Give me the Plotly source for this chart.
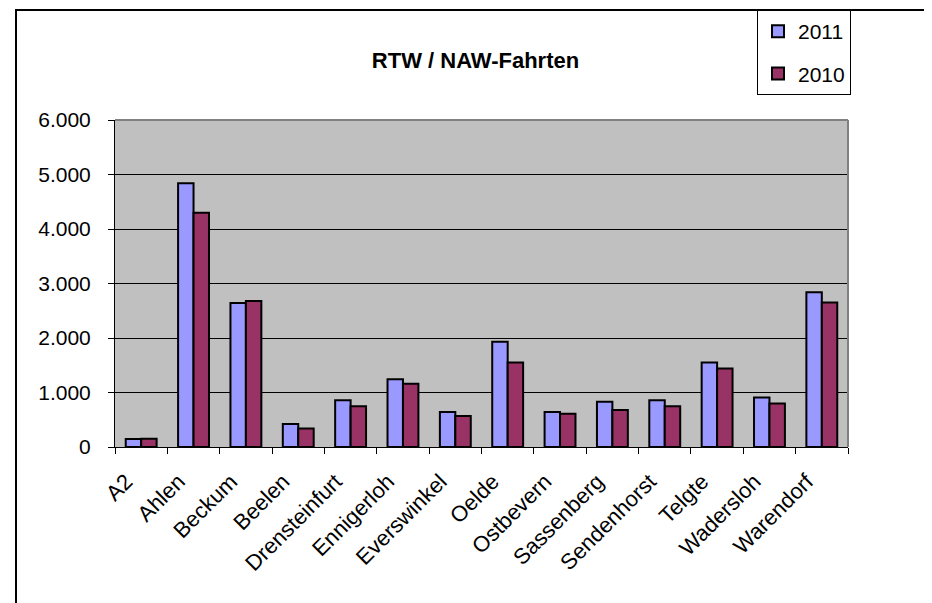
import plotly.graph_objects as go

categories = ["A2", "Ahlen", "Beckum", "Beelen", "Drensteinfurt", "Ennigerloh",
              "Everswinkel", "Oelde", "Ostbevern", "Sassenberg", "Sendenhorst",
              "Telgte", "Wadersloh", "Warendorf"]
values_2011 = [145, 4840, 2640, 420, 860, 1245, 640, 1930, 640, 830, 860, 1550, 910, 2840]
values_2010 = [150, 4300, 2680, 340, 750, 1160, 570, 1550, 610, 680, 750, 1440, 800, 2650]
y_ticks = [0, 1000, 2000, 3000, 4000, 5000, 6000]

FONT = "Liberation Sans, Arial, sans-serif"
OFF = 8  # page body margin
W, H = 932 - OFF, 603 - OFF
L, R, T, B = 115 - OFF, 84, 120 - OFF, 156
pw, ph = W - L - R, H - T - B

def px_x(x):
    return (x - OFF - L) / pw

def px_y(y):
    return (H - B - (y - OFF)) / ph

fig = go.Figure()
fig.add_trace(go.Bar(name="2011", x=categories, y=values_2011, legendgroup="a",
                     marker=dict(color="#9999FF", line=dict(color="#000000", width=2))))
fig.add_trace(go.Bar(name="2010", x=categories, y=values_2010, legendgroup="b",
                     marker=dict(color="#993366", line=dict(color="#000000", width=2))))

fig.update_layout(
    width=W, height=H,
    margin=dict(l=L, r=R, t=T, b=B, autoexpand=False),
    paper_bgcolor="white",
    plot_bgcolor="#C0C0C0",
    separators=",.",
    barmode="group",
    bargap=0.41,
    bargroupgap=0,
    font=dict(family=FONT, size=21, color="#000000"),
    title=dict(text="<b>RTW / NAW-Fahrten</b>", x=px_x(475.5), xref="paper", xanchor="center",
               y=1 - (60 - OFF) / H, yref="container", yanchor="middle",
               font=dict(family=FONT, size=22, color="#000000")),
    legend=dict(x=px_x(757), y=px_y(10), xanchor="left", yanchor="top",
                bgcolor="white", bordercolor="#000000", borderwidth=1,
                font=dict(family=FONT, size=21), traceorder="grouped",
                tracegroupgap=12, itemwidth=30),
    xaxis=dict(showline=True, linecolor="#000000", linewidth=1,
               ticks="outside", ticklen=6, tickcolor="#000000", tickson="boundaries",
               tickangle=-45, showgrid=False, tickfont=dict(size=22),
               ticklabelshift=-15, ticklabelstandoff=12),
    yaxis=dict(range=[0, 6000], tickvals=y_ticks, tickformat=",d",
               showline=True, linecolor="#000000", linewidth=1,
               ticks="outside", ticklen=6, tickcolor="#000000",
               showgrid=True, gridcolor="#000000", gridwidth=1, zeroline=False,
               tickfont=dict(size=21), ticklabelstandoff=13),
    shapes=[
        dict(type="line", xref="paper", yref="paper", x0=0, x1=1, y0=1, y1=1,
             line=dict(color="#808080", width=2)),
        dict(type="line", xref="paper", yref="paper", x0=1, x1=1, y0=0, y1=1,
             line=dict(color="#808080", width=2)),
        dict(type="rect", xref="paper", yref="paper", x0=px_x(16), x1=px_x(960),
             y0=px_y(640), y1=px_y(10), line=dict(color="#000000", width=2),
             layer="below"),
    ],
)

fig.write_html("out.html")
